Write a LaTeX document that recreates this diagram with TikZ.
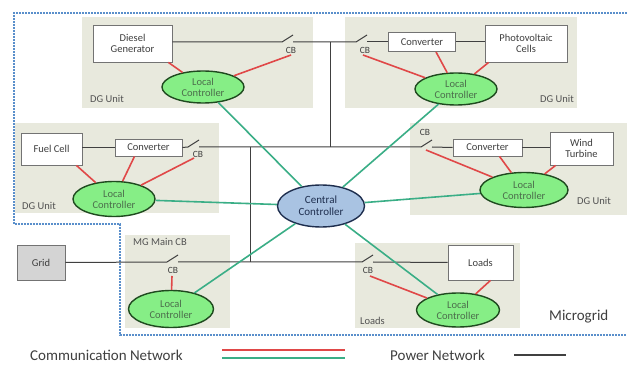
\documentclass[tikz,border=0pt]{standalone}
\usepackage{fontspec}
\setmainfont{Carlito}
\usetikzlibrary{shapes.geometric}
\definecolor{unitbg}{HTML}{E8E9DD}
\definecolor{txt}{HTML}{3F3F3F}
\definecolor{lcfill}{HTML}{86EE86}
\definecolor{lcborder}{HTML}{1F4A1F}
\definecolor{ccfill}{HTML}{A9C3E2}
\definecolor{ccborder}{HTML}{1E2E4E}
\definecolor{commred}{HTML}{E04848}
\definecolor{commgreen}{HTML}{3AAE86}
\definecolor{mgblue}{HTML}{5A8FCB}
\tikzset{
  unitbox/.style={fill=unitbg, draw=none},
  dev/.style={draw=black!55, fill=white, line width=0.8pt, text=txt, font=\fontsize{10.5}{11.5}\selectfont, align=center, inner sep=0pt},
  lc/.style={ellipse, draw=lcborder, line width=1.4pt, fill=lcfill, text=lcborder!80, font=\fontsize{10.5}{11}\selectfont, align=center, inner sep=0pt, minimum width=82pt, minimum height=32pt},
  cc/.style={ellipse, draw=ccborder, line width=1.4pt, fill=ccfill, text=ccborder, font=\fontsize{11}{12}\selectfont, align=center, inner sep=0pt, minimum width=87pt, minimum height=42pt},
  comm/.style={draw=commred, line width=1.6pt},
  ctrl/.style={draw=commgreen, line width=1.6pt},
  power/.style={draw=black!75, line width=1pt},
  lbl/.style={text=txt!90, font=\fontsize{10.5}{11}\selectfont, inner sep=0pt},
  cblbl/.style={text=txt, font=\fontsize{9.5}{10}\selectfont, inner sep=0pt},
  mgline/.style={draw=mgblue, line width=1.6pt, dash pattern=on 1.6pt off 1.4pt},
}
\begin{document}
\begin{tikzpicture}[x=1pt,y=-1pt]
\useasboundingbox (0,0) rectangle (627,374);
\fill[white] (0,0) rectangle (627,374);
% unit backgrounds
\path[unitbox] (82,17) rectangle (313,108);
\path[unitbox] (345,17) rectangle (577,108);
\path[unitbox] (15,123) rectangle (219,213);
\path[unitbox] (410,123) rectangle (627,215);
\path[unitbox] (125,235) rectangle (230,328);
\path[unitbox] (355,243) rectangle (520,328);
% microgrid boundary
\draw[mgline] (627,13) -- (14,13) -- (14,224) -- (120,224) -- (120,335) -- (627,335);
% devices
\node[dev, minimum width=79pt, minimum height=37pt] (diesel) at (132.5,43.5) {Diesel\\Generator};
\node[dev, minimum width=67pt, minimum height=19pt] (conv2) at (422,42) {Converter};
\node[dev, minimum width=82pt, minimum height=37pt] (pv) at (526,43.5) {Photovoltaic\\Cells};
\node[dev, minimum width=61pt, minimum height=32pt] (fuel) at (51.5,149) {Fuel Cell};
\node[dev, minimum width=67pt, minimum height=17pt] (conv3) at (148.5,147.5) {Converter};
\node[dev, minimum width=69pt, minimum height=17pt] (conv4) at (487.5,147.5) {Converter};
\node[dev, minimum width=63pt, minimum height=33pt] (wind) at (581.5,148.5) {Wind\\Turbine};
\node[dev, minimum width=48pt, minimum height=35pt, fill=black!17] (grid) at (41,262.5) {Grid};
\node[dev, minimum width=65pt, minimum height=35pt] (loads) at (480.5,262.5) {Loads};
% CB points
\coordinate (cb1) at (288,42);
\coordinate (cb2) at (362,42);
\coordinate (cb3) at (194,147);
\coordinate (cb4) at (427,147);
\coordinate (cb5) at (173,262);
\coordinate (cb6) at (368,262);
\coordinate (j1) at (330,42);
\coordinate (j2) at (330,147);
\coordinate (j3) at (250,147);
\coordinate (j4) at (250,262);
% power network
\draw[power] (diesel.east |- cb1) -- ([xshift=-6pt]cb1) -- ++(11,-7);
\draw[power] ([xshift=5pt]cb1) -- ([xshift=-6pt]cb2) -- ++(11,-7);
\draw[power] ([xshift=5pt]cb2) -- (conv2.west);
\draw[power] (conv2.east) -- (pv.west |- conv2.east);
\draw[power] (j1) -- (j2);
\draw[power] (fuel.east |- conv3.west) -- (conv3.west);
\draw[power] (conv3.east) -- ([xshift=-6pt]cb3) -- ++(11,-7);
\draw[power] ([xshift=5pt]cb3) -- ([xshift=-6pt]cb4) -- ++(11,-7);
\draw[power] ([xshift=5pt]cb4) -- (conv4.west);
\draw[power] (conv4.east) -- (wind.west |- conv4.east);
\draw[power] (j3) -- (j4);
\draw[power] (grid.east) -- ([xshift=-6pt]cb5) -- ++(11,-7);
\draw[power] ([xshift=5pt]cb5) -- ([xshift=-6pt]cb6) -- ++(11,-7);
\draw[power] ([xshift=5pt]cb6) -- (loads.west);
% CB labels
\node[cblbl] (cbl1) at (291,50) {CB};
\node[cblbl] (cbl2) at (365,50) {CB};
\node[cblbl] (cbl3) at (198,154) {CB};
\node[cblbl] (cbl4) at (425,132) {CB};
\node[cblbl] (cbl5) at (173,270) {CB};
\node[cblbl] (cbl6) at (368,270) {CB};
% controllers
\node[lc] (lc1) at (203,87) {Local\\Controller};
\node[lc] (lc2) at (456,89) {Local\\Controller};
\node[lc, minimum height=35pt] (lc3) at (114,199) {Local\\Controller};
\node[lc, minimum width=88pt, minimum height=35pt] (lc4) at (524,190) {Local\\Controller};
\node[lc, minimum width=85pt, minimum height=37pt] (lc5) at (171,309) {Local\\Controller};
\node[lc, minimum width=83pt, minimum height=34pt] (lc6) at (458,310) {Local\\Controller};
\node[cc] (cc) at (321,206) {Central\\Controller};
% red communication links
\coordinate (r1) at (291,55);
\coordinate (r2) at (363,55);
\coordinate (r3) at (194,158);
\coordinate (r4) at (426,150);
\coordinate (r5) at (172,276);
\coordinate (r6) at (370,276);
\draw[comm] ([xshift=-4pt]diesel.south east) -- (lc1);
\draw[comm] (r1) -- (lc1);
\draw[comm] (r2) -- (lc2);
\draw[comm] ([xshift=14pt]conv2.south) -- (lc2);
\draw[comm] ([xshift=4pt]pv.south west) -- (lc2);
\draw[comm] ([xshift=-6pt]fuel.south east) -- (lc3);
\draw[comm] ([xshift=-14pt]conv3.south) -- (lc3);
\draw[comm] (r3) -- (lc3);
\draw[comm] (r4) -- (lc4);
\draw[comm] ([xshift=12pt]conv4.south) -- (lc4);
\draw[comm] ([xshift=6pt]wind.south west) -- (lc4);
\draw[comm] (r5) -- (lc5);
\draw[comm] (r6) -- (lc6);
\draw[comm] ([xshift=10pt]loads.south) -- (lc6);
% green links to central controller
\draw[ctrl] (lc1) -- (cc);
\draw[ctrl] (lc2) -- (cc);
\draw[ctrl] (lc3) -- (cc);
\draw[ctrl] (lc4) -- (cc);
\draw[ctrl] (lc5) -- (cc);
\draw[ctrl] (lc6) -- (cc);
% unit labels
\node[lbl, anchor=west] (u1) at (90,99) {DG Unit};
\node[lbl, anchor=west] (u2) at (540,99) {DG Unit};
\node[lbl, anchor=west] (u3) at (22,206) {DG Unit};
\node[lbl, anchor=west] (u4) at (577,201) {DG Unit};
\node[lbl, anchor=west] (u5) at (133,242) {MG Main CB};
\node[lbl, anchor=west] (u6) at (360,321) {Loads};
\node[text=txt, font=\fontsize{15}{16}\selectfont, inner sep=0pt, anchor=west] (mg) at (549,317) {Microgrid};
% legend
\node[text=txt, font=\fontsize{15}{16}\selectfont, inner sep=0pt, anchor=west] (lcomm) at (30,355) {Communication Network};
\coordinate (lr1) at (222,350);
\coordinate (lr2) at (345,350);
\coordinate (lg1) at (222,358);
\coordinate (lg2) at (345,358);
\draw[comm] (lr1) -- (lr2);
\draw[ctrl] (lg1) -- (lg2);
\node[text=txt, font=\fontsize{15}{16}\selectfont, inner sep=0pt, anchor=west] (lpow) at (390,355) {Power Network};
\coordinate (lp1) at (514,355);
\coordinate (lp2) at (566,355);
\draw[power, line width=1.4pt] (lp1) -- (lp2);
\end{tikzpicture}
\end{document}
